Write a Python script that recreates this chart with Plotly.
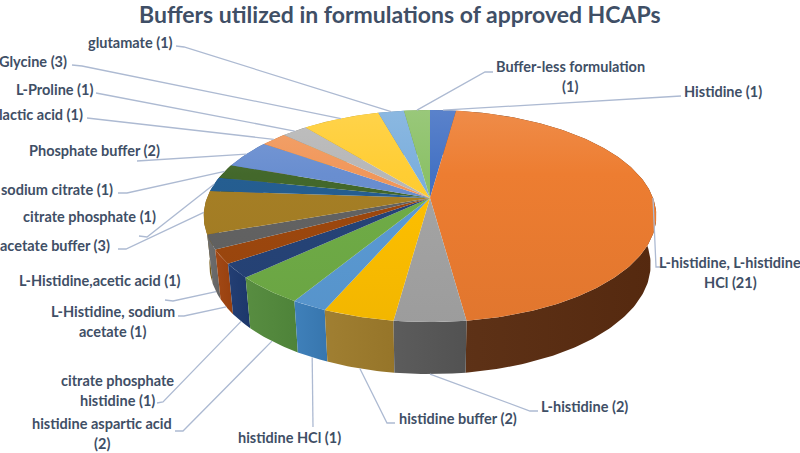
import numpy as np
import plotly.graph_objects as go

TITLE = "Buffers utilized in formulations of approved HCAPs"
categories = ["Histidine", "L-histidine, L-histidine HCl", "L-histidine", "histidine buffer", "histidine HCl",
              "histidine aspartic acid", "citrate phosphate histidine", "L-Histidine, sodium acetate",
              "L-Histidine,acetic acid", "acetate buffer", "citrate phosphate", "sodium citrate",
              "Phosphate buffer", "lactic acid", "L-Proline", "Glycine", "glutamate", "Buffer-less formulation"]
values = [1, 21, 2, 2, 1, 2, 1, 1, 1, 3, 1, 1, 2, 1, 1, 3, 1, 1]
label_text = ["Histidine (1)", "L-histidine, L-histidine<br>HCl (21)", "L-histidine (2)", "histidine buffer (2)",
              "histidine HCl (1)", "histidine aspartic acid<br>(2)", "citrate phosphate<br>histidine (1)",
              "L-Histidine, sodium<br>acetate (1)", "L-Histidine,acetic acid (1)", "acetate buffer (3)",
              "citrate phosphate (1)", "sodium citrate (1)", "Phosphate buffer (2)", "lactic acid (1)",
              "L-Proline (1)", "Glycine (3)", "glutamate (1)", "Buffer-less formulation<br>(1)"]

# styles
top_colors = ["#4472C4", "#ED7D31", "#A5A5A5", "#FFC000", "#5B9BD5", "#70AD47", "#264478", "#9E480E", "#636363",
              "#A67F25", "#255E91", "#43682B", "#698ED0", "#F1975A", "#B7B7B7", "#FFCD33", "#7CAFDD", "#8CC168"]
side_colors = ["#2F4F88", "#5A2C10", "#575757", "#9E7C2C", "#3A7DB8", "#538A3C", "#1E3A70", "#A0440F", "#6A6A6A",
               "#7A5E18", "#1C4A72", "#2F4A1E", "#4A6CA8", "#B5703F", "#8A8A8A", "#C09A26", "#5C86AA", "#68924E"]

# layout of labels and leader lines (pixel positions on the page)
label_xy = [(723, 91), (730, 272), (584, 406), (458, 418), (289, 437), (102, 433), (117, 390), (113, 321),
            (100, 280), (55, 245), (89, 216), (57, 189), (94, 150), (41, 114), (54, 89), (33, 61), (130, 42), (570, 76)]
leader_out = [[(681, 96)], [(661, 267), (656, 267)], [(538, 411), (530, 411)], [(395, 423), (387, 423)],
              [(313, 427)], [(175, 431), (183, 431)], [(157, 403), (163, 402)], [(178, 316), (184, 316)],
              [(165, 300), (173, 301)], [(118, 249), (126, 249)], [(139, 236), (147, 237)], [(118, 193), (127, 193)],
              [(137, 161)], [(87, 118), (97, 119)], [(96, 93), (105, 94)], [(72, 65), (82, 66)], [(176, 46), (184, 47)],
              [(493, 72), (485, 72)]]
LINE_GAP = 20

CX, CY, R, RY, P = 430.0, 198.0, 223.0, 103.0, 0.17
BOTTOM_SCALE, DEPTH, DEPTH_VAR = 0.975, 48.0, 4.0


def top_rim(phi):
    k = 1 / (1 + P * np.cos(phi))
    return CX + R * np.sin(phi) * k, CY - RY * np.cos(phi) * k


def bottom_rim(phi):
    x, y = top_rim(phi)
    return CX + (x - CX) * BOTTOM_SCALE, y + DEPTH - DEPTH_VAR * np.cos(phi)


def lighten(hex_color, f):
    c = [int(hex_color[i:i + 2], 16) for i in (1, 3, 5)]
    if f >= 0:
        c = [v + (255 - v) * f for v in c]
    else:
        c = [v * (1 + f) for v in c]
    return "rgb(%d,%d,%d)" % tuple(c)


total = sum(values)
edges = np.cumsum([0] + values) / total * 2 * np.pi
fig = go.Figure()

# side walls, far ones first
order = sorted(range(len(values)), key=lambda i: -np.cos((edges[i] + edges[i + 1]) / 2))
for i in order:
    a = np.linspace(edges[i], edges[i + 1], max(3, int(np.degrees(edges[i + 1] - edges[i])) + 2))
    tx, ty = top_rim(a)
    bx, by = bottom_rim(a[::-1])
    xs = np.r_[tx, bx, tx[0]]
    ys = np.r_[ty, by, ty[0]]
    base = side_colors[i]
    fig.add_trace(go.Scatter(
        x=xs, y=ys, mode="lines", line=dict(width=0), fill="toself", hoverinfo="skip", showlegend=False,
        fillgradient=dict(type="horizontal", start=float(xs.min()), stop=float(xs.max()),
                          colorscale=[[0, lighten(base, 0.03)], [1, lighten(base, -0.05)]])))

# top face
for i in range(len(values)):
    a = np.linspace(edges[i], edges[i + 1], max(3, int(np.degrees(edges[i + 1] - edges[i])) + 2))
    tx, ty = top_rim(a)
    xs = np.r_[CX, tx, CX]
    ys = np.r_[CY, ty, CY]
    base = top_colors[i]
    fig.add_trace(go.Scatter(
        x=xs, y=ys, mode="lines", line=dict(width=0), fill="toself", hoverinfo="skip", showlegend=False,
        fillgradient=dict(type="vertical", start=110, stop=325,
                          colorscale=[[0, lighten(base, 0.12)], [0.3, base], [1, lighten(base, -0.05)]])))

# leader lines from the middle of each slice
mids = (edges[:-1] + edges[1:]) / 2
for i, m in enumerate(mids):
    ex, ey = top_rim(m) if np.cos(m) > -0.2 else bottom_rim(m)
    pts = sorted(leader_out[i], key=lambda p: (p[0] - ex) ** 2 + (p[1] - ey) ** 2)
    fig.add_trace(go.Scatter(
        x=[ex] + [p[0] for p in pts], y=[ey] + [p[1] for p in pts],
        mode="lines", line=dict(color="#ADBAD2", width=1.3), hoverinfo="skip", showlegend=False))

ann = [dict(x=400, y=14, text="<b>%s</b>" % TITLE, showarrow=False, xanchor="center", yanchor="middle",
            font=dict(family="Lato", size=23, color="#3F4F66"))]
for t, (x, y) in zip(label_text, label_xy):
    lines = t.split("<br>")
    for j, part in enumerate(lines):
        ann.append(dict(x=x, y=y + (j - (len(lines) - 1) / 2) * LINE_GAP, text="<b>%s</b>" % part, showarrow=False,
                        xanchor="center", yanchor="middle", align="center",
                        font=dict(family="Lato", size=14.5, color="#3F4F66")))

fig.update_layout(
    width=800, height=453, margin=dict(l=0, r=0, t=0, b=0), paper_bgcolor="white", plot_bgcolor="white",
    xaxis=dict(range=[0, 800], visible=False, fixedrange=True),
    yaxis=dict(range=[453, 0], visible=False, fixedrange=True),
    annotations=ann)
fig.write_html("out.html", config=dict(displayModeBar=False),
               post_script="document.body.style.margin='0';document.body.style.overflow='hidden';")
